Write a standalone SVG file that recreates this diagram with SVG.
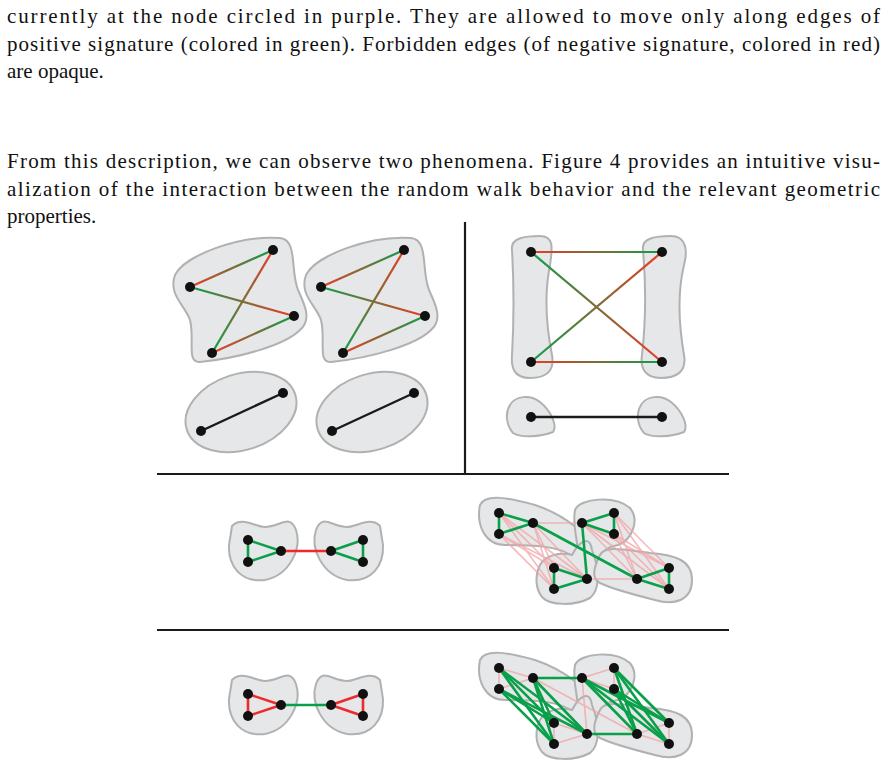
<svg xmlns="http://www.w3.org/2000/svg" width="887" height="766" viewBox="0 0 887 766">
<style>
text{font-family:"Liberation Serif","DejaVu Serif",serif;font-size:21px;fill:#111}
.b{fill:#e6e7e8;stroke:#b1b1b1;stroke-width:2}
.n{fill:#111}
.g{stroke:#0aa04a;stroke-width:2.6}
.r{stroke:#ee2a2a;stroke-width:2.6}
.p{stroke:#f3a3a6;stroke-width:1.6;opacity:0.75}
.k{stroke:#1a1a1a;stroke-width:2.4}
.d{stroke:#1a1a1a;stroke-width:2.2}
.e{stroke-width:2.2}
</style>
<defs>
<linearGradient id="gr" x1="0" y1="0" x2="1" y2="0"><stop offset="0" stop-color="#0aa04a"/><stop offset="1" stop-color="#ee3a24"/></linearGradient>
</defs>
<rect width="887" height="766" fill="#fff"/>
<text x="7" y="23" textLength="873" lengthAdjust="spacing">currently at the node circled in purple.  They are allowed to move only along edges of</text>
<text x="7" y="51" textLength="873" lengthAdjust="spacing">positive signature (colored in green). Forbidden edges (of negative signature, colored in red)</text>
<text x="7" y="78">are opaque.</text>
<text x="7" y="168" textLength="873" lengthAdjust="spacing">From this description, we can observe two phenomena. Figure 4 provides an intuitive visu-</text>
<text x="7" y="196" textLength="873" lengthAdjust="spacing">alization of the interaction between the random walk behavior and the relevant geometric</text>
<text x="7" y="223">properties.</text>

<g id="dividers">
<line class="d" x1="465" y1="222" x2="465" y2="474"/>
<line class="d" x1="157" y1="474" x2="729" y2="474"/>
<line class="d" x1="157" y1="630" x2="729" y2="630"/>
</g>

<g id="blobs">
<path id="tl1" class="b" d="M175,275 C185,255 240,235 280,238 C298,240 290,270 298,290 C305,305 312,320 300,330 C285,345 240,358 200,362 C186,363 195,340 190,320 C185,305 168,295 175,275 Z"/>
<path id="tl2" class="b" transform="translate(131,0)" d="M175,275 C185,255 240,235 280,238 C298,240 290,270 298,290 C305,305 312,320 300,330 C285,345 240,358 200,362 C186,363 195,340 190,320 C185,305 168,295 175,275 Z"/>
<ellipse id="tl3" class="b" cx="241" cy="412" rx="57" ry="38" transform="rotate(-18 241 412)"/>
<ellipse id="tl4" class="b" cx="372" cy="412" rx="57" ry="38" transform="rotate(-18 372 412)"/>
<path id="tr1" class="b" d="M512,250 C510,238 525,236 540,236 C555,236 552,250 550,265 C545,290 545,320 552,355 C555,372 545,378 530,378 C514,378 511,368 512,355 C514,320 514,285 512,250 Z"/>
<path id="tr2" class="b" d="M643,250 C641,238 656,236 671,236 C686,236 688,250 684,265 C678,290 678,320 684,355 C687,372 676,378 661,378 C645,378 640,368 642,355 C646,320 646,285 643,250 Z"/>
<path id="tr3" class="b" d="M510,405 C515,396 530,394 540,402 C550,410 558,425 553,432 C540,437 520,438 513,433 C506,425 505,413 510,405 Z"/>
<path id="tr4" class="b" d="M641,405 C646,396 661,394 671,402 C681,410 689,425 684,432 C671,437 651,438 644,433 C637,425 636,413 641,405 Z"/>
<path id="ml1" class="b" d="M232,526 C242,516 255,527 265,527 C280,527 290,513 296,530 C302,548 290,575 265,580 C240,583 228,565 229,545 Z"/>
<path id="ml2" class="b" transform="translate(612,0) scale(-1,1)" d="M232,526 C242,516 255,527 265,527 C280,527 290,513 296,530 C302,548 290,575 265,580 C240,583 228,565 229,545 Z"/>
<path id="bl1" class="b" transform="translate(0,154)" d="M232,526 C242,516 255,527 265,527 C280,527 290,513 296,530 C302,548 290,575 265,580 C240,583 228,565 229,545 Z"/>
<path id="bl2" class="b" transform="translate(612,154) scale(-1,1)" d="M232,526 C242,516 255,527 265,527 C280,527 290,513 296,530 C302,548 290,575 265,580 C240,583 228,565 229,545 Z"/>
<g id="mrblobs">
<path class="b" d="M480,505 C485,493 510,498 535,505 C565,515 590,535 598,555 C602,568 585,570 575,558 C560,545 530,545 505,545 C485,545 476,525 480,505 Z"/>
<path class="b" d="M575,510 C580,498 615,495 630,508 C640,520 632,540 618,545 C600,548 598,560 593,570 C586,578 578,570 578,555 C578,540 572,525 575,510 Z"/>
<path class="b" d="M540,565 C545,555 560,552 572,555 C580,540 590,535 592,550 C600,570 600,590 590,598 C575,606 550,606 542,597 C535,588 535,575 540,565 Z"/>
<path class="b" d="M600,555 C605,545 625,550 650,553 C675,555 692,560 692,580 C692,600 675,606 655,600 C635,595 615,590 600,583 C590,578 595,565 600,555 Z"/>
</g>
<g id="brblobs" transform="translate(0,155)">
<path class="b" d="M480,505 C485,493 510,498 535,505 C565,515 590,535 598,555 C602,568 585,570 575,558 C560,545 530,545 505,545 C485,545 476,525 480,505 Z"/>
<path class="b" d="M575,510 C580,498 615,495 630,508 C640,520 632,540 618,545 C600,548 598,560 593,570 C586,578 578,570 578,555 C578,540 572,525 575,510 Z"/>
<path class="b" d="M540,565 C545,555 560,552 572,555 C580,540 590,535 592,550 C600,570 600,590 590,598 C575,606 550,606 542,597 C535,588 535,575 540,565 Z"/>
<path class="b" d="M600,555 C605,545 625,550 650,553 C675,555 692,560 692,580 C692,600 675,606 655,600 C635,595 615,590 600,583 C590,578 595,565 600,555 Z"/>
</g>
</g>

<g id="connectors">
<g id="tl-edges" class="e">
<line stroke="url(#g1)" x1="273" y1="250" x2="190" y2="287"/>
<line stroke="url(#g2)" x1="190" y1="287" x2="294" y2="316"/>
<line stroke="url(#g3)" x1="212" y1="353" x2="273" y2="250"/>
<line stroke="url(#g4)" x1="294" y1="316" x2="212" y2="353"/>
<line stroke="url(#g5)" x1="404" y1="250" x2="321" y2="287"/>
<line stroke="url(#g6)" x1="321" y1="287" x2="425" y2="316"/>
<line stroke="url(#g7)" x1="343" y1="353" x2="404" y2="250"/>
<line stroke="url(#g8)" x1="425" y1="316" x2="343" y2="353"/>
<line class="k" x1="201" y1="431" x2="283" y2="393"/>
<line class="k" x1="332" y1="431" x2="414" y2="393"/>
<line stroke="url(#g9)" x1="662" y1="252" x2="531" y2="252"/>
<line stroke="url(#g10)" x1="531" y1="252" x2="662" y2="362"/>
<line stroke="url(#g11)" x1="531" y1="362" x2="662" y2="252"/>
<line stroke="url(#g12)" x1="662" y1="362" x2="531" y2="362"/>
<line class="k" x1="531" y1="417" x2="662" y2="417"/>
</g>
<defs>
<linearGradient id="g1" href="#gr" gradientUnits="userSpaceOnUse" x1="273" y1="250" x2="190" y2="287"/>
<linearGradient id="g2" href="#gr" gradientUnits="userSpaceOnUse" x1="190" y1="287" x2="294" y2="316"/>
<linearGradient id="g3" href="#gr" gradientUnits="userSpaceOnUse" x1="212" y1="353" x2="273" y2="250"/>
<linearGradient id="g4" href="#gr" gradientUnits="userSpaceOnUse" x1="294" y1="316" x2="212" y2="353"/>
<linearGradient id="g5" href="#gr" gradientUnits="userSpaceOnUse" x1="404" y1="250" x2="321" y2="287"/>
<linearGradient id="g6" href="#gr" gradientUnits="userSpaceOnUse" x1="321" y1="287" x2="425" y2="316"/>
<linearGradient id="g7" href="#gr" gradientUnits="userSpaceOnUse" x1="343" y1="353" x2="404" y2="250"/>
<linearGradient id="g8" href="#gr" gradientUnits="userSpaceOnUse" x1="425" y1="316" x2="343" y2="353"/>
<linearGradient id="g9" href="#gr" gradientUnits="userSpaceOnUse" x1="662" y1="252" x2="531" y2="252"/>
<linearGradient id="g10" href="#gr" gradientUnits="userSpaceOnUse" x1="531" y1="252" x2="662" y2="362"/>
<linearGradient id="g11" href="#gr" gradientUnits="userSpaceOnUse" x1="531" y1="362" x2="662" y2="252"/>
<linearGradient id="g12" href="#gr" gradientUnits="userSpaceOnUse" x1="662" y1="362" x2="531" y2="362"/>
</defs>
<g id="ml-edges">
<line class="g" x1="248" y1="540" x2="248" y2="562"/>
<line class="g" x1="248" y1="540" x2="281" y2="551"/>
<line class="g" x1="248" y1="562" x2="281" y2="551"/>
<line class="r" x1="281" y1="551" x2="331" y2="551"/>
<line class="g" x1="363" y1="540" x2="363" y2="562"/>
<line class="g" x1="363" y1="540" x2="331" y2="551"/>
<line class="g" x1="363" y1="562" x2="331" y2="551"/>
</g>
<g id="bl-edges" transform="translate(0,154)">
<line class="r" x1="248" y1="540" x2="248" y2="562"/>
<line class="r" x1="248" y1="540" x2="281" y2="551"/>
<line class="r" x1="248" y1="562" x2="281" y2="551"/>
<line class="g" x1="281" y1="551" x2="331" y2="551"/>
<line class="r" x1="363" y1="540" x2="363" y2="562"/>
<line class="r" x1="363" y1="540" x2="331" y2="551"/>
<line class="r" x1="363" y1="562" x2="331" y2="551"/>
</g>
<g id="mr-edges">
<g class="p">
<line x1="499" y1="513" x2="554" y2="568"/><line x1="499" y1="513" x2="554" y2="589"/><line x1="499" y1="513" x2="587" y2="579"/>
<line x1="499" y1="534" x2="554" y2="568"/><line x1="499" y1="534" x2="554" y2="589"/><line x1="499" y1="534" x2="587" y2="579"/>
<line x1="533" y1="523" x2="554" y2="568"/><line x1="533" y1="523" x2="554" y2="589"/><line x1="533" y1="523" x2="587" y2="579"/>
<line x1="582" y1="523" x2="637" y2="579"/><line x1="582" y1="523" x2="669" y2="568"/><line x1="582" y1="523" x2="669" y2="589"/>
<line x1="614" y1="513" x2="637" y2="579"/><line x1="614" y1="513" x2="669" y2="568"/><line x1="614" y1="513" x2="669" y2="589"/>
<line x1="614" y1="534" x2="637" y2="579"/><line x1="614" y1="534" x2="669" y2="568"/><line x1="614" y1="534" x2="669" y2="589"/>
<line x1="533" y1="523" x2="582" y2="523"/><line x1="587" y1="579" x2="637" y2="579"/>
</g>
<g class="g">
<line x1="499" y1="513" x2="499" y2="534"/><line x1="499" y1="513" x2="533" y2="523"/><line x1="499" y1="534" x2="533" y2="523"/>
<line x1="582" y1="523" x2="614" y2="513"/><line x1="582" y1="523" x2="614" y2="534"/><line x1="614" y1="513" x2="614" y2="534"/>
<line x1="554" y1="568" x2="554" y2="589"/><line x1="554" y1="568" x2="587" y2="579"/><line x1="554" y1="589" x2="587" y2="579"/>
<line x1="637" y1="579" x2="669" y2="568"/><line x1="637" y1="579" x2="669" y2="589"/><line x1="669" y1="568" x2="669" y2="589"/>
<line x1="533" y1="523" x2="637" y2="579"/><line x1="582" y1="523" x2="587" y2="579"/>
</g>
</g>
<g id="br-edges" transform="translate(0,155)">
<g class="p">
<line x1="499" y1="513" x2="499" y2="534"/><line x1="499" y1="513" x2="533" y2="523"/><line x1="499" y1="534" x2="533" y2="523"/>
<line x1="582" y1="523" x2="614" y2="513"/><line x1="582" y1="523" x2="614" y2="534"/><line x1="614" y1="513" x2="614" y2="534"/>
<line x1="554" y1="568" x2="554" y2="589"/><line x1="554" y1="568" x2="587" y2="579"/><line x1="554" y1="589" x2="587" y2="579"/>
<line x1="637" y1="579" x2="669" y2="568"/><line x1="637" y1="579" x2="669" y2="589"/><line x1="669" y1="568" x2="669" y2="589"/>
<line x1="533" y1="523" x2="637" y2="579"/><line x1="582" y1="523" x2="587" y2="579"/>
</g>
<g class="g">
<line x1="499" y1="513" x2="554" y2="568"/><line x1="499" y1="513" x2="554" y2="589"/><line x1="499" y1="513" x2="587" y2="579"/>
<line x1="499" y1="534" x2="554" y2="568"/><line x1="499" y1="534" x2="554" y2="589"/><line x1="499" y1="534" x2="587" y2="579"/>
<line x1="533" y1="523" x2="554" y2="568"/><line x1="533" y1="523" x2="554" y2="589"/><line x1="533" y1="523" x2="587" y2="579"/>
<line x1="582" y1="523" x2="637" y2="579"/><line x1="582" y1="523" x2="669" y2="568"/><line x1="582" y1="523" x2="669" y2="589"/>
<line x1="614" y1="513" x2="637" y2="579"/><line x1="614" y1="513" x2="669" y2="568"/><line x1="614" y1="513" x2="669" y2="589"/>
<line x1="614" y1="534" x2="637" y2="579"/><line x1="614" y1="534" x2="669" y2="568"/><line x1="614" y1="534" x2="669" y2="589"/>
<line x1="533" y1="523" x2="582" y2="523"/><line x1="587" y1="579" x2="637" y2="579"/>
</g>
</g>
</g>

<g id="nodes" class="n">
<circle cx="273" cy="250" r="5"/><circle cx="190" cy="287" r="5"/><circle cx="294" cy="316" r="5"/><circle cx="212" cy="353" r="5"/>
<circle cx="404" cy="250" r="5"/><circle cx="321" cy="287" r="5"/><circle cx="425" cy="316" r="5"/><circle cx="343" cy="353" r="5"/>
<circle cx="201" cy="431" r="5"/><circle cx="283" cy="393" r="5"/><circle cx="332" cy="431" r="5"/><circle cx="414" cy="393" r="5"/>
<circle cx="531" cy="252" r="5"/><circle cx="662" cy="252" r="5"/><circle cx="531" cy="362" r="5"/><circle cx="662" cy="362" r="5"/>
<circle cx="531" cy="417" r="5"/><circle cx="662" cy="417" r="5"/>
<g id="mlnodes"><circle cx="248" cy="540" r="5"/><circle cx="248" cy="562" r="5"/><circle cx="281" cy="551" r="5"/><circle cx="331" cy="551" r="5"/><circle cx="363" cy="540" r="5"/><circle cx="363" cy="562" r="5"/></g>
<g transform="translate(0,154)"><circle cx="248" cy="540" r="5"/><circle cx="248" cy="562" r="5"/><circle cx="281" cy="551" r="5"/><circle cx="331" cy="551" r="5"/><circle cx="363" cy="540" r="5"/><circle cx="363" cy="562" r="5"/></g>
<g id="mrnodes"><circle cx="499" cy="513" r="5"/><circle cx="499" cy="534" r="5"/><circle cx="533" cy="523" r="5"/><circle cx="582" cy="523" r="5"/><circle cx="614" cy="513" r="5"/><circle cx="614" cy="534" r="5"/><circle cx="554" cy="568" r="5"/><circle cx="554" cy="589" r="5"/><circle cx="587" cy="579" r="5"/><circle cx="637" cy="579" r="5"/><circle cx="669" cy="568" r="5"/><circle cx="669" cy="589" r="5"/></g>
<g transform="translate(0,155)"><circle cx="499" cy="513" r="5"/><circle cx="499" cy="534" r="5"/><circle cx="533" cy="523" r="5"/><circle cx="582" cy="523" r="5"/><circle cx="614" cy="513" r="5"/><circle cx="614" cy="534" r="5"/><circle cx="554" cy="568" r="5"/><circle cx="554" cy="589" r="5"/><circle cx="587" cy="579" r="5"/><circle cx="637" cy="579" r="5"/><circle cx="669" cy="568" r="5"/><circle cx="669" cy="589" r="5"/></g>
</g>
</svg>
